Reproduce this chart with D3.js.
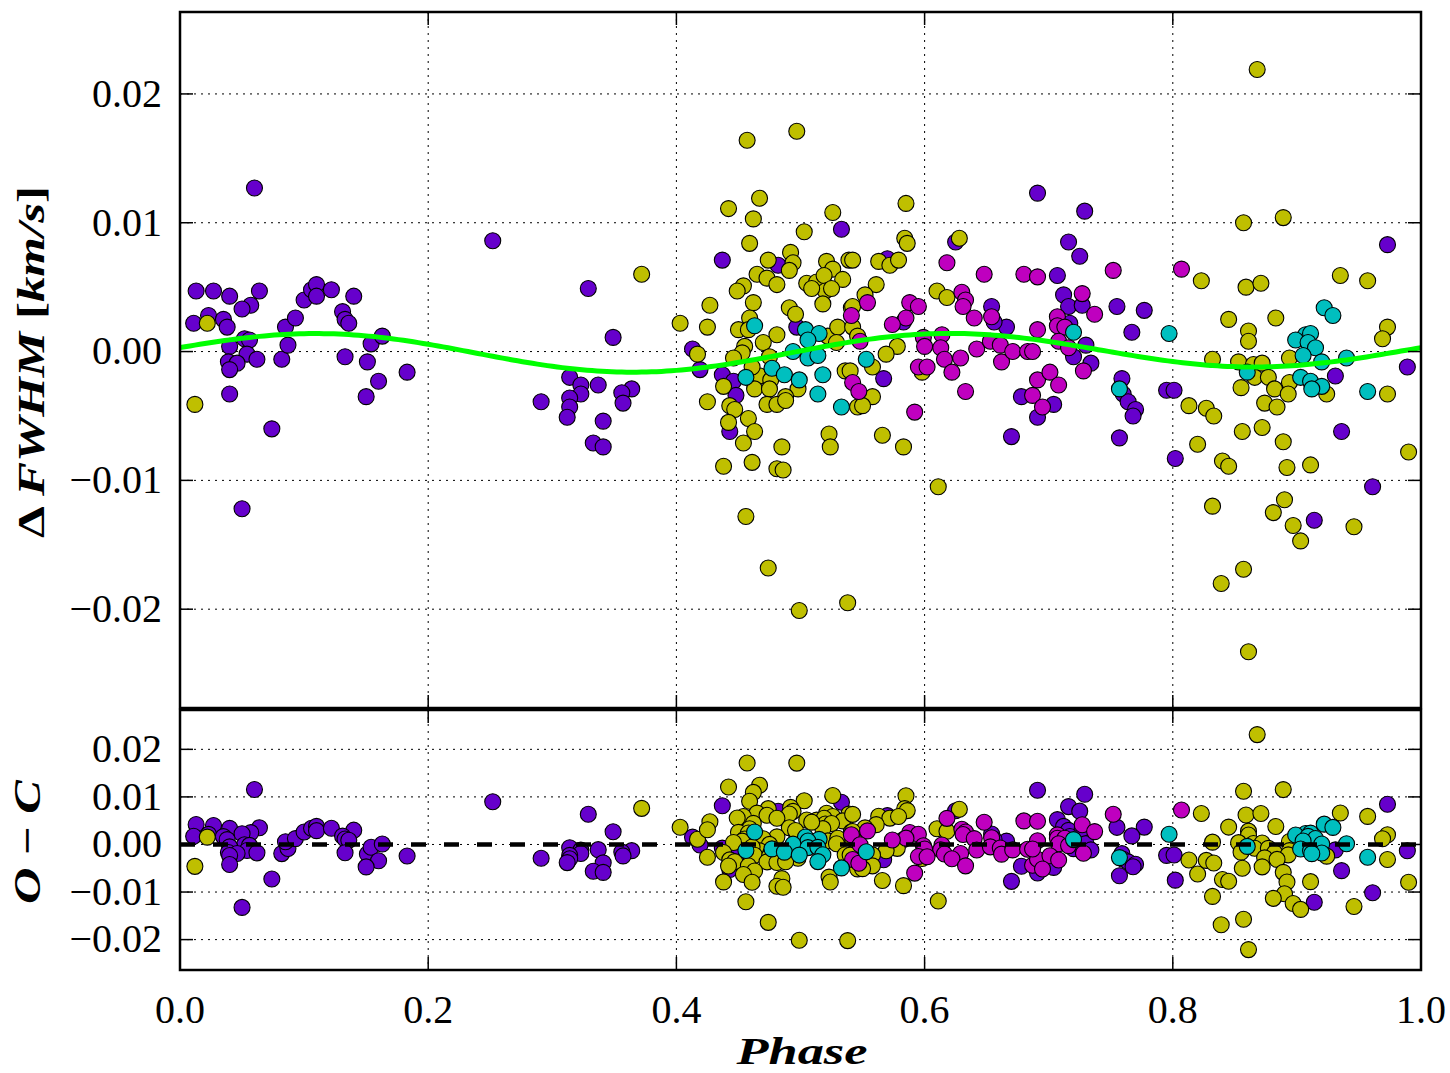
<!DOCTYPE html>
<html>
<head>
<meta charset="utf-8">
<script src="https://cdn.jsdelivr.net/npm/d3@7"></script>
<style>
  body { margin: 0; background: #fff; }
  text { font-family: "Liberation Serif", "Times New Roman", serif; }
</style>
</head>
<body>
<script>
// ΔFWHM per instrument / season: [phase, value in km/s]
const purplePoints = [
  [0.013,0.0047],[0.027,0.0047],[0.040,0.0043],[0.060,0.0127],[0.064,0.0047],[0.057,0.0036],
  [0.050,0.0033],[0.023,0.0028],[0.011,0.0022],[0.035,0.0025],[0.038,0.0019],[0.052,0.0010],
  [0.056,0.0009],[0.040,0.0004],[0.054,-0.0002],[0.039,-0.0008],[0.046,-0.0009],[0.040,-0.0014],
  [0.062,-0.0006],[0.040,-0.0033],[0.074,-0.0060],[0.050,-0.0122],[0.082,-0.0006],[0.087,0.0005],
  [0.085,0.0019],[0.093,0.0026],[0.100,0.0040],[0.106,0.0048],[0.110,0.0052],[0.110,0.0043],
  [0.122,0.0048],[0.140,0.0043],[0.131,0.0031],[0.133,0.0025],[0.136,0.0022],[0.133,-0.0004],
  [0.151,-0.0008],[0.154,0.0006],[0.163,0.0012],[0.160,-0.0023],[0.150,-0.0035],[0.183,-0.0016],
  [0.252,0.0086],[0.329,0.0049],[0.349,0.0011],[0.413,0.0002],[0.314,-0.0020],[0.323,-0.0026],
  [0.337,-0.0026],[0.364,-0.0029],[0.356,-0.0032],[0.323,-0.0033],[0.314,-0.0036],[0.357,-0.0040],
  [0.314,-0.0043],[0.312,-0.0051],[0.291,-0.0039],[0.341,-0.0054],[0.333,-0.0071],[0.341,-0.0074],
  [0.533,0.0095],[0.437,0.0071],[0.482,0.0067],[0.497,0.0019],[0.419,-0.0014],[0.437,-0.0018],
  [0.446,-0.0023],[0.448,-0.0034],[0.443,-0.0062],[0.691,0.0123],[0.625,0.0085],[0.570,0.0072],
  [0.583,0.0023],[0.654,0.0035],[0.666,0.0019],[0.656,0.0023],[0.567,-0.0021],[0.670,-0.0066],
  [0.678,-0.0035],[0.691,-0.0051],[0.729,0.0109],[0.716,0.0085],[0.725,0.0074],[0.707,0.0059],
  [0.712,0.0044],[0.716,0.0035],[0.727,0.0036],[0.755,0.0035],[0.777,0.0032],[0.717,0.0022],
  [0.767,0.0015],[0.730,0.0005],[0.720,-0.0004],[0.734,-0.0009],[0.704,-0.0041],[0.759,-0.0021],
  [0.760,-0.0033],[0.764,-0.0039],[0.770,-0.0045],[0.768,-0.0050],[0.757,-0.0067],[0.795,-0.0030],
  [0.801,-0.0030],[0.802,-0.0083],[0.973,0.0083],[0.989,-0.0012],[0.931,-0.0019],[0.936,-0.0062],
  [0.961,-0.0105],[0.914,-0.0131]
];

const yellowPoints = [
  [0.022,0.0022],[0.012,-0.0041],[0.372,0.0060],[0.403,0.0022],[0.417,-0.0002],
  [0.457,0.0164],[0.497,0.0171],[0.442,0.0111],[0.467,0.0119],[0.462,0.0103],[0.526,0.0108],
  [0.503,0.0093],[0.459,0.0084],[0.492,0.0077],[0.474,0.0071],[0.494,0.0069],[0.491,0.0063],
  [0.465,0.0060],[0.473,0.0057],[0.481,0.0052],[0.521,0.0070],[0.526,0.0064],[0.539,0.0071],
  [0.534,0.0056],[0.505,0.0053],[0.513,0.0054],[0.519,0.0059],[0.520,0.0047],[0.525,0.0049],
  [0.518,0.0037],[0.509,0.0049],[0.454,0.0051],[0.449,0.0047],[0.462,0.0038],[0.427,0.0036],
  [0.425,0.0019],[0.491,0.0034],[0.496,0.0029],[0.459,0.0026],[0.450,0.0017],[0.458,0.0017],
  [0.481,0.0013],[0.470,0.0007],[0.455,0.0004],[0.453,-0.0001],[0.522,0.0012],[0.530,0.0019],
  [0.541,0.0034],[0.529,0.0007],[0.446,-0.0005],[0.475,-0.0004],[0.467,-0.0019],[0.461,-0.0012],
  [0.438,-0.0027],[0.463,-0.0029],[0.476,-0.0022],[0.498,-0.0029],[0.536,-0.0015],[0.425,-0.0039],
  [0.488,-0.0035],[0.475,-0.0029],[0.443,-0.0042],[0.447,-0.0045],[0.473,-0.0041],[0.481,-0.0041],
  [0.488,-0.0038],[0.546,-0.0043],[0.442,-0.0055],[0.458,-0.0052],[0.463,-0.0062],[0.454,-0.0071],
  [0.485,-0.0074],[0.523,-0.0064],[0.524,-0.0074],[0.438,-0.0089],[0.461,-0.0086],[0.481,-0.0091],
  [0.486,-0.0092],[0.456,-0.0128],[0.474,-0.0168],[0.499,-0.0201],[0.538,-0.0195],
  [0.585,0.0115],[0.628,0.0088],[0.584,0.0088],[0.586,0.0084],[0.542,0.0071],[0.563,0.0070],
  [0.572,0.0067],[0.579,0.0071],[0.561,0.0052],[0.552,0.0044],[0.610,0.0047],[0.618,0.0042],
  [0.542,0.0035],[0.542,0.0019],[0.546,0.0012],[0.578,0.0004],[0.569,-0.0002],[0.558,-0.0012],
  [0.540,-0.0015],[0.598,-0.0016],[0.558,-0.0035],[0.550,-0.0042],[0.566,-0.0065],[0.583,-0.0074],
  [0.611,-0.0105],[0.813,-0.0042],[0.820,-0.0072],
  [0.868,0.0219],[0.857,0.0100],[0.889,0.0104],[0.823,0.0055],[0.859,0.0050],[0.871,0.0053],
  [0.935,0.0059],[0.957,0.0055],[0.845,0.0025],[0.883,0.0026],[0.861,0.0016],[0.861,0.0008],
  [0.973,0.0019],[0.969,0.0010],[0.832,-0.0006],[0.853,-0.0008],[0.865,-0.0010],[0.872,-0.0009],
  [0.894,-0.0005],[0.866,-0.0020],[0.877,-0.0020],[0.894,-0.0024],[0.855,-0.0028],[0.882,-0.0029],
  [0.973,-0.0033],[0.924,-0.0033],[0.893,-0.0033],[0.827,-0.0044],[0.833,-0.0050],[0.874,-0.0040],
  [0.884,-0.0043],[0.856,-0.0062],[0.872,-0.0059],[0.889,-0.0070],[0.840,-0.0085],[0.845,-0.0089],
  [0.892,-0.0090],[0.911,-0.0088],[0.990,-0.0078],[0.832,-0.0120],[0.890,-0.0115],[0.881,-0.0125],
  [0.897,-0.0135],[0.903,-0.0147],[0.946,-0.0136],[0.857,-0.0169],[0.839,-0.0180],[0.861,-0.0233]
];

const magentaPoints = [
  [0.541,0.0028],[0.542,-0.0024],[0.618,0.0069],[0.648,0.0060],[0.680,0.0060],[0.691,0.0058],
  [0.554,0.0038],[0.630,0.0046],[0.633,0.0040],[0.631,0.0035],[0.588,0.0038],[0.595,0.0035],
  [0.585,0.0026],[0.574,0.0021],[0.640,0.0026],[0.654,0.0027],[0.691,0.0017],[0.548,0.0008],
  [0.599,0.0011],[0.600,0.0004],[0.614,0.0013],[0.613,0.0003],[0.616,-0.0006],[0.629,-0.0005],
  [0.622,-0.0016],[0.642,0.0002],[0.653,0.0008],[0.661,0.0005],[0.662,-0.0008],[0.671,0.0000],
  [0.683,0.0000],[0.595,-0.0012],[0.602,-0.0012],[0.547,-0.0031],[0.633,-0.0031],[0.592,-0.0047],
  [0.687,-0.0034],[0.691,-0.0022],[0.752,0.0063],[0.807,0.0064],[0.727,0.0045],[0.737,0.0029],
  [0.707,0.0027],[0.707,0.0020],[0.713,0.0019],[0.687,0.0000],[0.708,0.0008],[0.716,0.0003],
  [0.728,-0.0015],[0.701,-0.0016],[0.708,-0.0026],[0.695,-0.0043]
];

const cyanPoints = [
  [0.463,0.0020],[0.504,0.0017],[0.515,0.0014],[0.506,0.0009],[0.494,0.0000],[0.506,-0.0005],
  [0.514,-0.0003],[0.477,-0.0013],[0.487,-0.0018],[0.456,-0.0020],[0.499,-0.0022],[0.518,-0.0018],
  [0.514,-0.0033],[0.533,-0.0043],[0.553,-0.0006],[0.720,0.0015],[0.797,0.0014],[0.757,-0.0029],
  [0.922,0.0034],[0.929,0.0028],[0.907,0.0013],[0.911,0.0014],[0.899,0.0009],[0.909,0.0007],
  [0.915,0.0003],[0.905,-0.0003],[0.920,-0.0008],[0.940,-0.0005],[0.860,-0.0016],[0.903,-0.0020],
  [0.911,-0.0023],[0.920,-0.0027],[0.912,-0.0029],[0.957,-0.0031]
];

// fitted model (two harmonics)
const modelTerms = [
  { amp: 0.0014, harmonic: 2, phase0: 0.115 },
  { amp: 0.0002, harmonic: 1, phase0: 0.86 }
];

const xTicks = [0, 0.2, 0.4, 0.6, 0.8, 1.0];
const topTicks = [0.02, 0.01, 0, -0.01, -0.02];
const botTicks = [0.02, 0.01, 0, -0.01, -0.02];

const series = [
  { pts: purplePoints, color: "#6600cc" },
  { pts: yellowPoints, color: "#bfbf00" },
  { pts: magentaPoints, color: "#bf00bf" },
  { pts: cyanPoints, color: "#00bfbf" }
];

const model = p => d3.sum(modelTerms, t => t.amp * Math.cos(2 * Math.PI * t.harmonic * (p - t.phase0)));

const width = 1450, height = 1073;
const left = 180, right = 1421;

const svg = d3.select("body").append("svg")
  .attr("width", width).attr("height", height);
svg.append("rect").attr("width", width).attr("height", height).attr("fill", "#fff");

const x = d3.scaleLinear().domain([0, 1]).range([left, right]);
const yTop = d3.scaleLinear().domain([-0.02767, 0.02636]).range([708, 12]);
const yBot = d3.scaleLinear().domain([-0.02639, 0.02827]).range([970, 710]);

const fmtY = v => (v < 0 ? "\u2212" : "") + Math.abs(v).toFixed(2);

function panel(y, ticks, top, bottom, getY, id) {
  const g = svg.append("g");
  svg.append("clipPath").attr("id", id).append("rect")
    .attr("x", left).attr("y", top).attr("width", right - left).attr("height", bottom - top);

  // grid
  g.selectAll(".gx").data(xTicks.slice(1, -1)).enter().append("line")
    .attr("x1", d => x(d)).attr("x2", d => x(d)).attr("y1", top).attr("y2", bottom)
    .attr("stroke", "#000").attr("stroke-width", 1).attr("stroke-dasharray", "2,5");
  g.selectAll(".gy").data(ticks).enter().append("line")
    .attr("x1", left).attr("x2", right).attr("y1", d => y(d)).attr("y2", d => y(d))
    .attr("stroke", "#000").attr("stroke-width", 1).attr("stroke-dasharray", "2,5");

  // points
  const pg = g.append("g").attr("clip-path", `url(#${id})`);
  series.forEach(s => {
    pg.append("g").selectAll("circle").data(s.pts).enter().append("circle")
      .attr("cx", d => x(d[0])).attr("cy", d => y(getY(d)))
      .attr("r", 8).attr("fill", s.color).attr("stroke", "#000").attr("stroke-width", 1.1);
  });

  // ticks (inward, all sides)
  ticks.forEach(t => {
    g.append("line").attr("x1", left).attr("x2", left + 13).attr("y1", y(t)).attr("y2", y(t))
      .attr("stroke", "#000").attr("stroke-width", 1.5);
    g.append("line").attr("x1", right - 13).attr("x2", right).attr("y1", y(t)).attr("y2", y(t))
      .attr("stroke", "#000").attr("stroke-width", 1.5);
  });
  xTicks.forEach(t => {
    g.append("line").attr("x1", x(t)).attr("x2", x(t)).attr("y1", top).attr("y2", top + 13)
      .attr("stroke", "#000").attr("stroke-width", 1.5);
    g.append("line").attr("x1", x(t)).attr("x2", x(t)).attr("y1", bottom - 13).attr("y2", bottom)
      .attr("stroke", "#000").attr("stroke-width", 1.5);
  });

  // tick labels
  g.selectAll(".yl").data(ticks).enter().append("text")
    .attr("x", 162).attr("y", d => y(d)).attr("dy", "0.32em")
    .attr("text-anchor", "end").attr("font-size", 40).text(fmtY);

  return { g, pg };
}

const topP = panel(yTop, topTicks, 12, 708, d => d[1], "clipTop");
const botP = panel(yBot, botTicks, 710, 970, d => d[1] - model(d[0]), "clipBot");

// model curve
const curve = d3.range(0, 1.0001, 0.004);
topP.pg.append("path").datum(curve)
  .attr("d", d3.line().x(p => x(p)).y(p => yTop(model(p))))
  .attr("fill", "none").attr("stroke", "#00ff00").attr("stroke-width", 5);

// zero line in residuals
botP.pg.append("line").attr("x1", left).attr("x2", right)
  .attr("y1", yBot(0)).attr("y2", yBot(0))
  .attr("stroke", "#000").attr("stroke-width", 4.5).attr("stroke-dasharray", "15,18");

// frames
[[12, 708], [710, 970]].forEach(([t, b]) => {
  svg.append("rect").attr("x", left).attr("y", t).attr("width", right - left).attr("height", b - t)
    .attr("fill", "none").attr("stroke", "#000").attr("stroke-width", 2.5);
});

// x tick labels
svg.selectAll(".xl").data(xTicks).enter().append("text")
  .attr("x", d => x(d)).attr("y", 1023).attr("text-anchor", "middle")
  .attr("font-size", 40).text(d => d.toFixed(1));

// axis labels
const yl = svg.append("text").attr("transform", "translate(44,362) rotate(-90)")
  .attr("text-anchor", "middle").attr("font-size", 38).attr("font-weight", "bold")
  .attr("textLength", 352).attr("lengthAdjust", "spacingAndGlyphs");
yl.append("tspan").text("\u0394 ");
yl.append("tspan").attr("font-style", "italic").text("FWHM");
yl.append("tspan").text(" [");
yl.append("tspan").attr("font-style", "italic").text("km/s");
yl.append("tspan").text("]");

const ol = svg.append("text").attr("transform", "translate(40,842) rotate(-90)")
  .attr("text-anchor", "middle").attr("font-size", 38).attr("font-weight", "bold")
  .attr("textLength", 124).attr("lengthAdjust", "spacingAndGlyphs");
ol.append("tspan").attr("font-style", "italic").text("O");
ol.append("tspan").text(" \u2212 ");
ol.append("tspan").attr("font-style", "italic").text("C");

svg.append("text").attr("x", 802).attr("y", 1064).attr("text-anchor", "middle")
  .attr("font-size", 38).attr("font-weight", "bold").attr("font-style", "italic")
  .attr("textLength", 131).attr("lengthAdjust", "spacingAndGlyphs")
  .text("Phase");
</script>
</body>
</html>
